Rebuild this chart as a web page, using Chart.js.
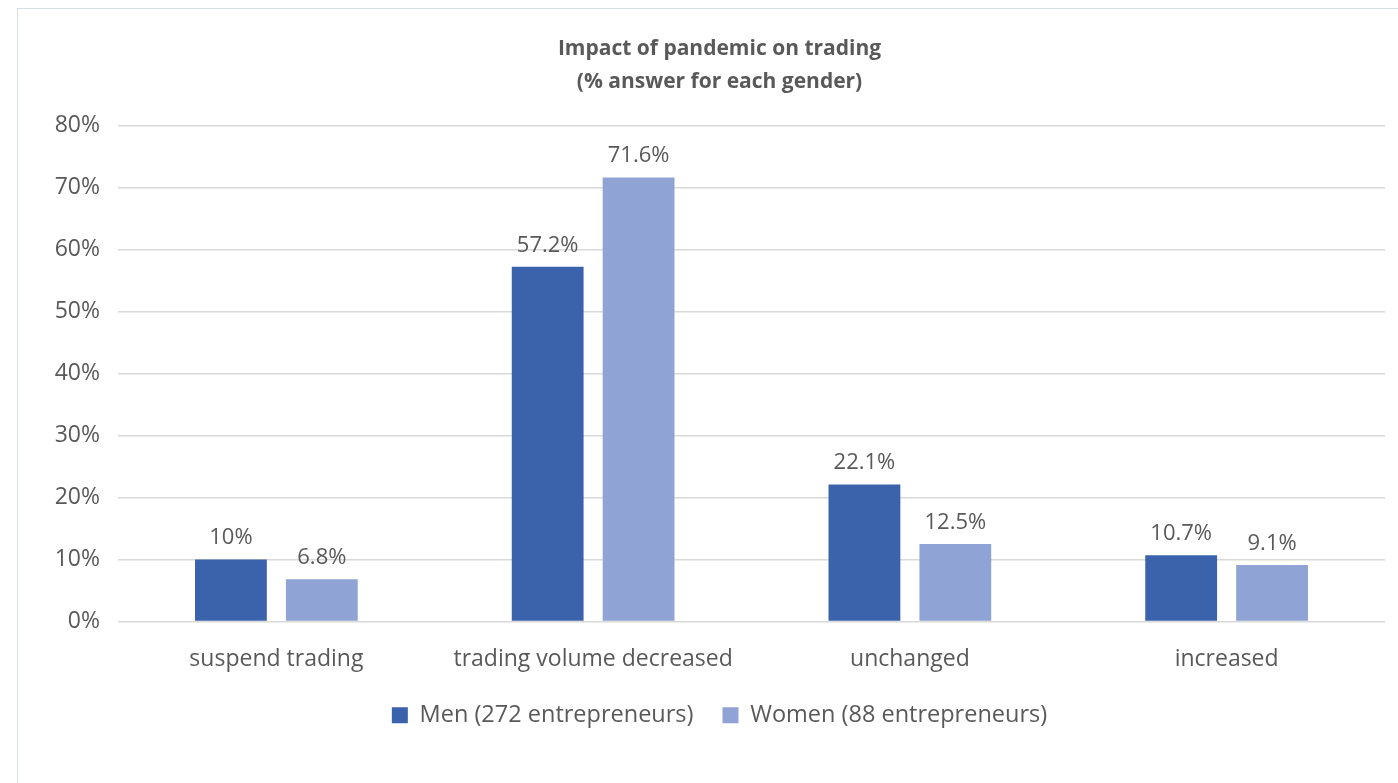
<!DOCTYPE html>
<html>
<head>
<meta charset="utf-8">
<script src="https://cdn.jsdelivr.net/npm/chart.js@4"></script>
<style>
  html, body { margin: 0; padding: 0; background: #fff; overflow: hidden; }
  #box {
    position: absolute; left: 17px; top: 8px;
    width: 1405px; height: 790px;
    border: 1px solid #d6dee6; box-sizing: border-box;
  }
</style>
</head>
<body>
<div id="box"><canvas id="chart"></canvas></div>
<script>
// categories and values (% answer for each gender)
const categories = ["suspend trading", "trading volume decreased", "unchanged", "increased"];
const menValues = [10, 57.2, 22.1, 10.7];
const womenValues = [6.8, 71.6, 12.5, 9.1];
const seriesNames = ["Men (272 entrepreneurs)", "Women (88 entrepreneurs)"];
const titleLines = ["Impact of pandemic on trading", "(% answer for each gender)"];

const textColor = "#595959";
const fontFamily = "'Open Sans', 'Noto Sans', sans-serif";

// draws the value above each bar
const barLabels = {
  id: "barLabels",
  afterDatasetsDraw(chart) {
    const ctx = chart.ctx;
    ctx.save();
    ctx.font = "22px " + fontFamily;
    ctx.fillStyle = textColor;
    ctx.textAlign = "center";
    ctx.textBaseline = "alphabetic";
    chart.data.datasets.forEach((ds, i) => {
      chart.getDatasetMeta(i).data.forEach((bar, j) => {
        ctx.fillText(ds.data[j] + "%", bar.x, bar.y - 15);
      });
    });
    ctx.restore();
  },
};

new Chart(document.getElementById("chart"), {
  type: "bar",
  data: {
    labels: categories,
    datasets: [
      { label: seriesNames[0], data: menValues, backgroundColor: "#3b63ab" },
      { label: seriesNames[1], data: womenValues, backgroundColor: "#8fa4d4" },
    ],
  },
  options: {
    responsive: true,
    maintainAspectRatio: false,
    animation: false,
    layout: { padding: { left: 0, right: 0, top: 0, bottom: 60 } },
    categoryPercentage: 0.574,
    barPercentage: 0.79,
    plugins: {
      title: {
        display: true,
        text: titleLines,
        color: textColor,
        font: { family: fontFamily, size: 21, weight: "bold", lineHeight: 1.58 },
        padding: { top: 23, bottom: 27 },
      },
      legend: {
        position: "bottom",
        labels: {
          color: textColor,
          font: { family: fontFamily, size: 23.5 },
          boxWidth: 16,
          boxHeight: 16,
          padding: 29,
        },
      },
      tooltip: { enabled: false },
    },
    scales: {
      x: {
        grid: { display: false },
        border: { display: false },
        ticks: { color: textColor, font: { family: fontFamily, size: 23, lineHeight: 1 }, padding: 18 },
        afterFit(scale) { scale.height = 53; },
      },
      y: {
        min: 0,
        max: 80,
        ticks: {
          stepSize: 10,
          color: textColor,
          font: { family: fontFamily, size: 23 },
          padding: 18,
          callback: (v) => v + "%",
        },
        grid: { color: "#d9d9d9", lineWidth: 1.5, drawTicks: false },
        border: { display: false },
        afterFit(scale) { scale.width = 100; },
      },
      // empty right margin so the legend centres on the whole frame
      yRight: {
        position: "right",
        grid: { display: false },
        border: { display: false },
        ticks: { display: false },
        afterFit(scale) { scale.width = 36; },
      },
    },
  },
  plugins: [barLabels],
});
</script>
</body>
</html>
